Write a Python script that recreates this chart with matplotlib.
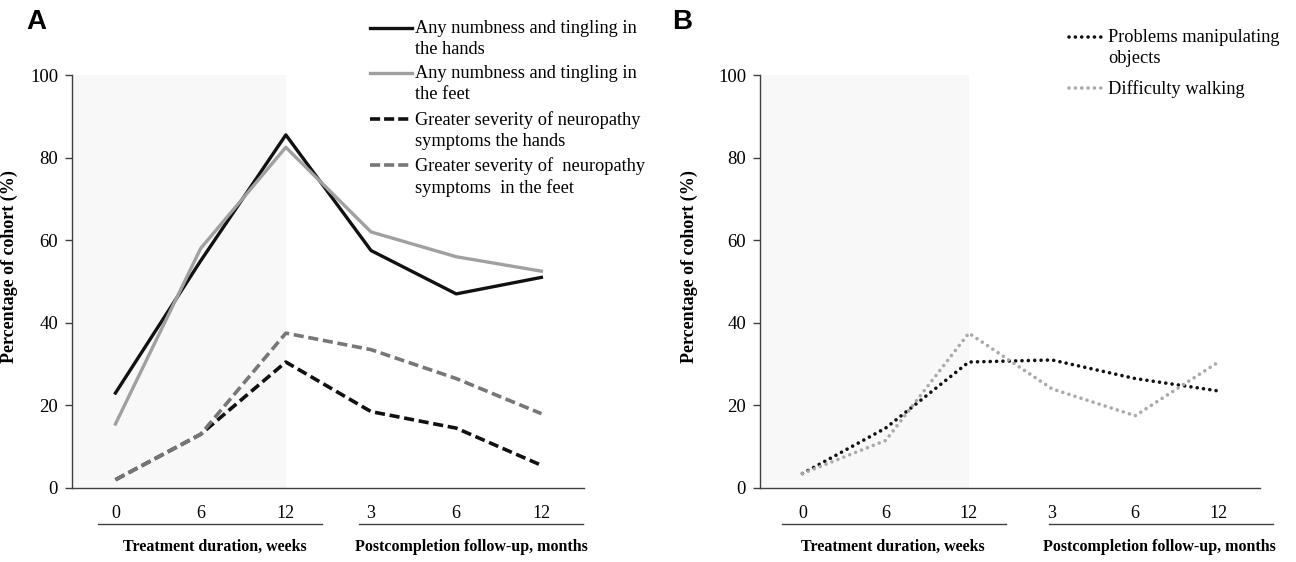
import matplotlib.pyplot as plt
from matplotlib.lines import Line2D

plt.rcParams['font.family'] = ['Liberation Serif', 'DejaVu Serif']

tick_labels = ['0', '6', '12', '3', '6', '12']
x = list(range(len(tick_labels)))

hands_any = [23, 55, 85.5, 57.5, 47, 51]
feet_any = [15.5, 58, 82.5, 62, 56, 52.5]
hands_severe = [2, 13, 30.5, 18.5, 14.5, 5.5]
feet_severe = [2, 13, 37.5, 33.5, 26.5, 18]

manipulating = [3.5, 14.5, 30.5, 31, 26.5, 23.5]
walking = [3.5, 11.5, 37.5, 24, 17.5, 30.5]

legend_a = ['Any numbness and tingling in\nthe hands',
            'Any numbness and tingling in\nthe feet',
            'Greater severity of neuropathy\nsymptoms the hands',
            'Greater severity of  neuropathy\nsymptoms  in the feet']
legend_b = ['Problems manipulating\nobjects', 'Difficulty walking']

W, H = 1296, 562
fig = plt.figure(figsize=(W / 100, H / 100), dpi=100)


def fx(px):
    return px / W


def fy(py):
    return 1 - py / H


DASH = (0, (2.8, 1.3))
DOT = (0, (0.01, 1.75))


def setup(ax, under_left, under_right, lab_left, lab_right, ylab_x):
    ax.set_xlim(-0.51, 5.5)
    ax.set_ylim(0, 100)
    ax.axvspan(-0.51, 2, color='#f8f8f8', zorder=0, lw=0)
    for s in ['top', 'right']:
        ax.spines[s].set_visible(False)
    for s in ['left', 'bottom']:
        ax.spines[s].set_color('#404040')
        ax.spines[s].set_linewidth(1)
    ax.set_yticks([0, 20, 40, 60, 80, 100])
    ax.tick_params(axis='y', length=5, width=1, color='#404040', labelsize=13.5, pad=5)
    ax.set_xticks(x)
    ax.set_xticklabels(tick_labels)
    ax.tick_params(axis='x', length=0, labelsize=13, pad=12)
    ax.set_ylabel('Percentage of cohort (%)', fontsize=13, fontweight='bold')
    ax.yaxis.set_label_coords(ylab_x, 0.535)
    tr = ax.get_xaxis_transform()
    # group underlines below the tick labels
    ax.add_line(Line2D(under_left, [-0.087, -0.087], transform=tr, color='#404040', lw=1, clip_on=False))
    ax.add_line(Line2D(under_right, [-0.087, -0.087], transform=tr, color='#404040', lw=1, clip_on=False))
    ax.text(lab_left, -0.143, 'Treatment duration, weeks', transform=tr, ha='center', va='center',
            fontsize=11.5, fontweight='bold')
    ax.text(lab_right, -0.143, 'Postcompletion follow-up, months', transform=tr, ha='center', va='center',
            fontsize=11.5, fontweight='bold')


def legend_entry(x0, x1, yline, xtext, text, **style):
    fig.add_artist(Line2D([fx(x0), fx(x1)], [fy(yline), fy(yline)], **style))
    fig.text(fx(xtext), fy(yline - 8), text, ha='left', va='top', fontsize=13.2, linespacing=1.34)


# Panel A
axA = fig.add_axes([fx(72), fy(488), fx(584) - fx(72), fy(75) - fy(488)])
setup(axA, [-0.21, 2.43], [2.86, 5.49], 1.17, 4.18, -0.105)
axA.plot(x, hands_any, color='#111111', lw=2.4)
axA.plot(x, feet_any, color='#a0a0a0', lw=2.4)
axA.plot(x, hands_severe, color='#111111', lw=2.6, ls=DASH)
axA.plot(x, feet_severe, color='#777777', lw=2.6, ls=DASH)

styles_a = [dict(color='#111111', lw=2.4),
            dict(color='#a0a0a0', lw=2.4),
            dict(color='#111111', lw=2.6, ls=(0, (2.8, 1.1))),
            dict(color='#777777', lw=2.6, ls=(0, (2.8, 1.1)))]
for yl, lab, st in zip([28, 73, 119, 165], legend_a, styles_a):
    legend_entry(370, 412, yl, 415, lab, **st)

# Panel B
axB = fig.add_axes([fx(760), fy(488), fx(1260) - fx(760), fy(75) - fy(488)])
setup(axB, [-0.24, 2.45], [2.96, 5.66], 1.09, 4.29, -0.124)
axB.plot(x, manipulating, color='#111111', lw=2.6, ls=DOT, dash_capstyle='round')
axB.plot(x, walking, color='#aaaaaa', lw=2.6, ls=DOT, dash_capstyle='round')

styles_b = [dict(color='#111111', lw=2.6, ls=DOT, dash_capstyle='round'),
            dict(color='#aaaaaa', lw=2.6, ls=DOT, dash_capstyle='round')]
for yl, lab, st in zip([37, 88], legend_b, styles_b):
    legend_entry(1069, 1102, yl, 1108, lab, **st)

panel_font = ['Liberation Sans', 'DejaVu Sans']
fig.text(fx(36), fy(22), 'A', fontsize=20, fontweight='bold', family=panel_font, ha='center', va='center')
fig.text(fx(682), fy(22), 'B', fontsize=20, fontweight='bold', family=panel_font, ha='center', va='center')

fig.savefig('out.png', dpi=100)
